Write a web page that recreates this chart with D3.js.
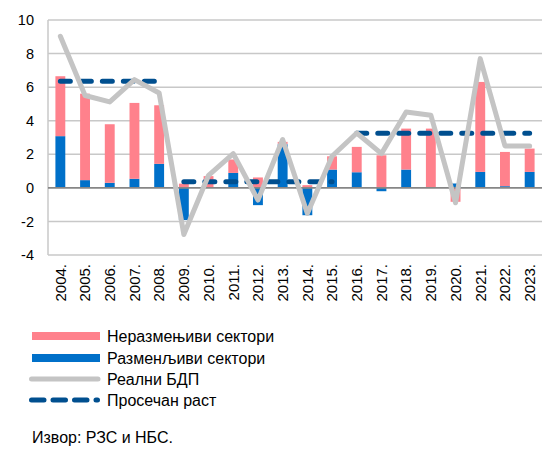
<!DOCTYPE html>
<html><head><meta charset="utf-8">
<script src="https://cdn.jsdelivr.net/npm/d3@7"></script>
<style>body{margin:0;background:#fff}svg{display:block;font-family:"Liberation Sans",Arial,sans-serif}</style>
</head><body><svg id="c" width="542" height="450"></svg>
<script>
const years = ["2004.","2005.","2006.","2007.","2008.","2009.","2010.","2011.","2012.","2013.","2014.","2015.","2016.","2017.","2018.","2019.","2020.","2021.","2022.","2023."];
const nonTradables = [3.57,5.15,3.49,4.52,3.49,0.25,0.7,0.8,0.62,0.14,0.16,0.79,1.51,1.94,2.44,3.53,-0.83,5.36,2.04,1.39];
const tradables = [3.08,0.46,0.3,0.54,1.43,-1.92,0,0.89,-1.03,2.6,-1.63,1.09,0.93,-0.2,1.09,0,0.26,0.95,0.1,0.95];
const realGDP = [9.03,5.5,5.12,6.45,5.65,-2.78,0.75,2.04,-0.73,2.88,-1.53,1.88,3.27,2.04,4.52,4.33,-0.89,7.7,2.5,2.5];
const avgPeriods = [{from:"2004.",to:"2008.",value:6.35},{from:"2009.",to:"2015.",value:0.36},{from:"2016.",to:"2023.",value:3.26}];
const yTicks = [-4,-2,0,2,4,6,8,10];
const legendLabels = ["Неразмењиви сектори","Разменљиви сектори","Реални БДП","Просечан раст"];
const sourceText = "Извор: РЗС и НБС.";

const colPink="#FF818C", colBlue="#0070C9", colGrey="#C4C4C4", colDash="#004F8F";
const svg=d3.select("#c");
const L=48,R=542,T=20,B=255;
const x=d3.scaleBand().domain(years).range([L,R]).paddingInner(0.6).paddingOuter(0.3);
const xc=d=>x(d)+x.bandwidth()/2;
const y=d3.scaleLinear().domain([-4,10]).range([B,T]);

// grid
svg.append("g").selectAll("line").data(yTicks.filter(t=>t!==0)).join("line")
 .attr("x1",L).attr("x2",R).attr("y1",d=>y(d)).attr("y2",d=>y(d))
 .attr("stroke","#C8C8C8").attr("stroke-width",1.5);
svg.append("line").attr("x1",L).attr("x2",L).attr("y1",T).attr("y2",B).attr("stroke","#C8C8C8").attr("stroke-width",1.5);

// y labels
svg.append("g").selectAll("text").data(yTicks).join("text")
 .attr("x",34).attr("y",d=>y(d)).attr("dy","0.35em").attr("text-anchor","end")
 .attr("font-size",14.5).attr("fill","#000").text(d=>d);

// stacked bars (diverging)
const rows=years.map((yr,i)=>({yr,t:tradables[i],n:nonTradables[i]}));
const stack=d3.stack().keys(["t","n"]).offset(d3.stackOffsetDiverging);
const series=stack(rows);
const colors={t:colBlue,n:colPink};
svg.append("g").selectAll("g").data(series).join("g").attr("fill",s=>colors[s.key])
 .selectAll("rect").data(s=>s).join("rect")
 .attr("x",d=>x(d.data.yr)).attr("width",x.bandwidth())
 .attr("y",d=>y(Math.max(d[0],d[1]))).attr("height",d=>Math.abs(y(d[0])-y(d[1])));

// zero line
svg.append("line").attr("x1",L).attr("x2",R).attr("y1",y(0)).attr("y2",y(0)).attr("stroke","#868686").attr("stroke-width",1.8);

// avg dashed lines
svg.append("g").selectAll("line").data(avgPeriods).join("line")
 .attr("x1",d=>xc(d.from)).attr("x2",d=>xc(d.to)).attr("y1",d=>y(d.value)).attr("y2",d=>y(d.value))
 .attr("stroke",colDash).attr("stroke-width",5).attr("stroke-linecap","round").attr("stroke-dasharray","10,11");

// GDP line
svg.append("path").datum(realGDP).attr("fill","none").attr("stroke",colGrey).attr("stroke-width",5)
 .attr("stroke-linejoin","round").attr("stroke-linecap","round")
 .attr("d",d3.line().x((d,i)=>xc(years[i])).y(d=>y(d)));

// x labels
svg.append("g").selectAll("text").data(years).join("text")
 .attr("transform",d=>`translate(${xc(d)},264) rotate(-90)`).attr("dy","0.35em")
 .attr("text-anchor","end").attr("font-size",15).attr("fill","#000").text(d=>d);

// legend
const lg=svg.append("g");
const ly=[336,358,379,400];
lg.append("rect").attr("x",32).attr("y",ly[0]-4).attr("width",68).attr("height",8).attr("fill",colPink);
lg.append("rect").attr("x",32).attr("y",ly[1]-4).attr("width",68).attr("height",8).attr("fill",colBlue);
lg.append("line").attr("x1",31.5).attr("x2",98).attr("y1",ly[2]).attr("y2",ly[2]).attr("stroke",colGrey).attr("stroke-width",5).attr("stroke-linecap","round");
lg.append("line").attr("x1",31.5).attr("x2",97.5).attr("y1",ly[3]).attr("y2",ly[3]).attr("stroke",colDash).attr("stroke-width",5).attr("stroke-linecap","round").attr("stroke-dasharray","12.5,9");
lg.selectAll("text").data(legendLabels).join("text").attr("x",107).attr("y",(d,i)=>ly[i]).attr("dy","0.35em")
 .attr("font-size",16).attr("fill","#000").text(d=>d);
svg.append("text").attr("x",32).attr("y",437).attr("dy","0.35em").attr("font-size",16).attr("fill","#000").text(sourceText);
</script></body></html>
